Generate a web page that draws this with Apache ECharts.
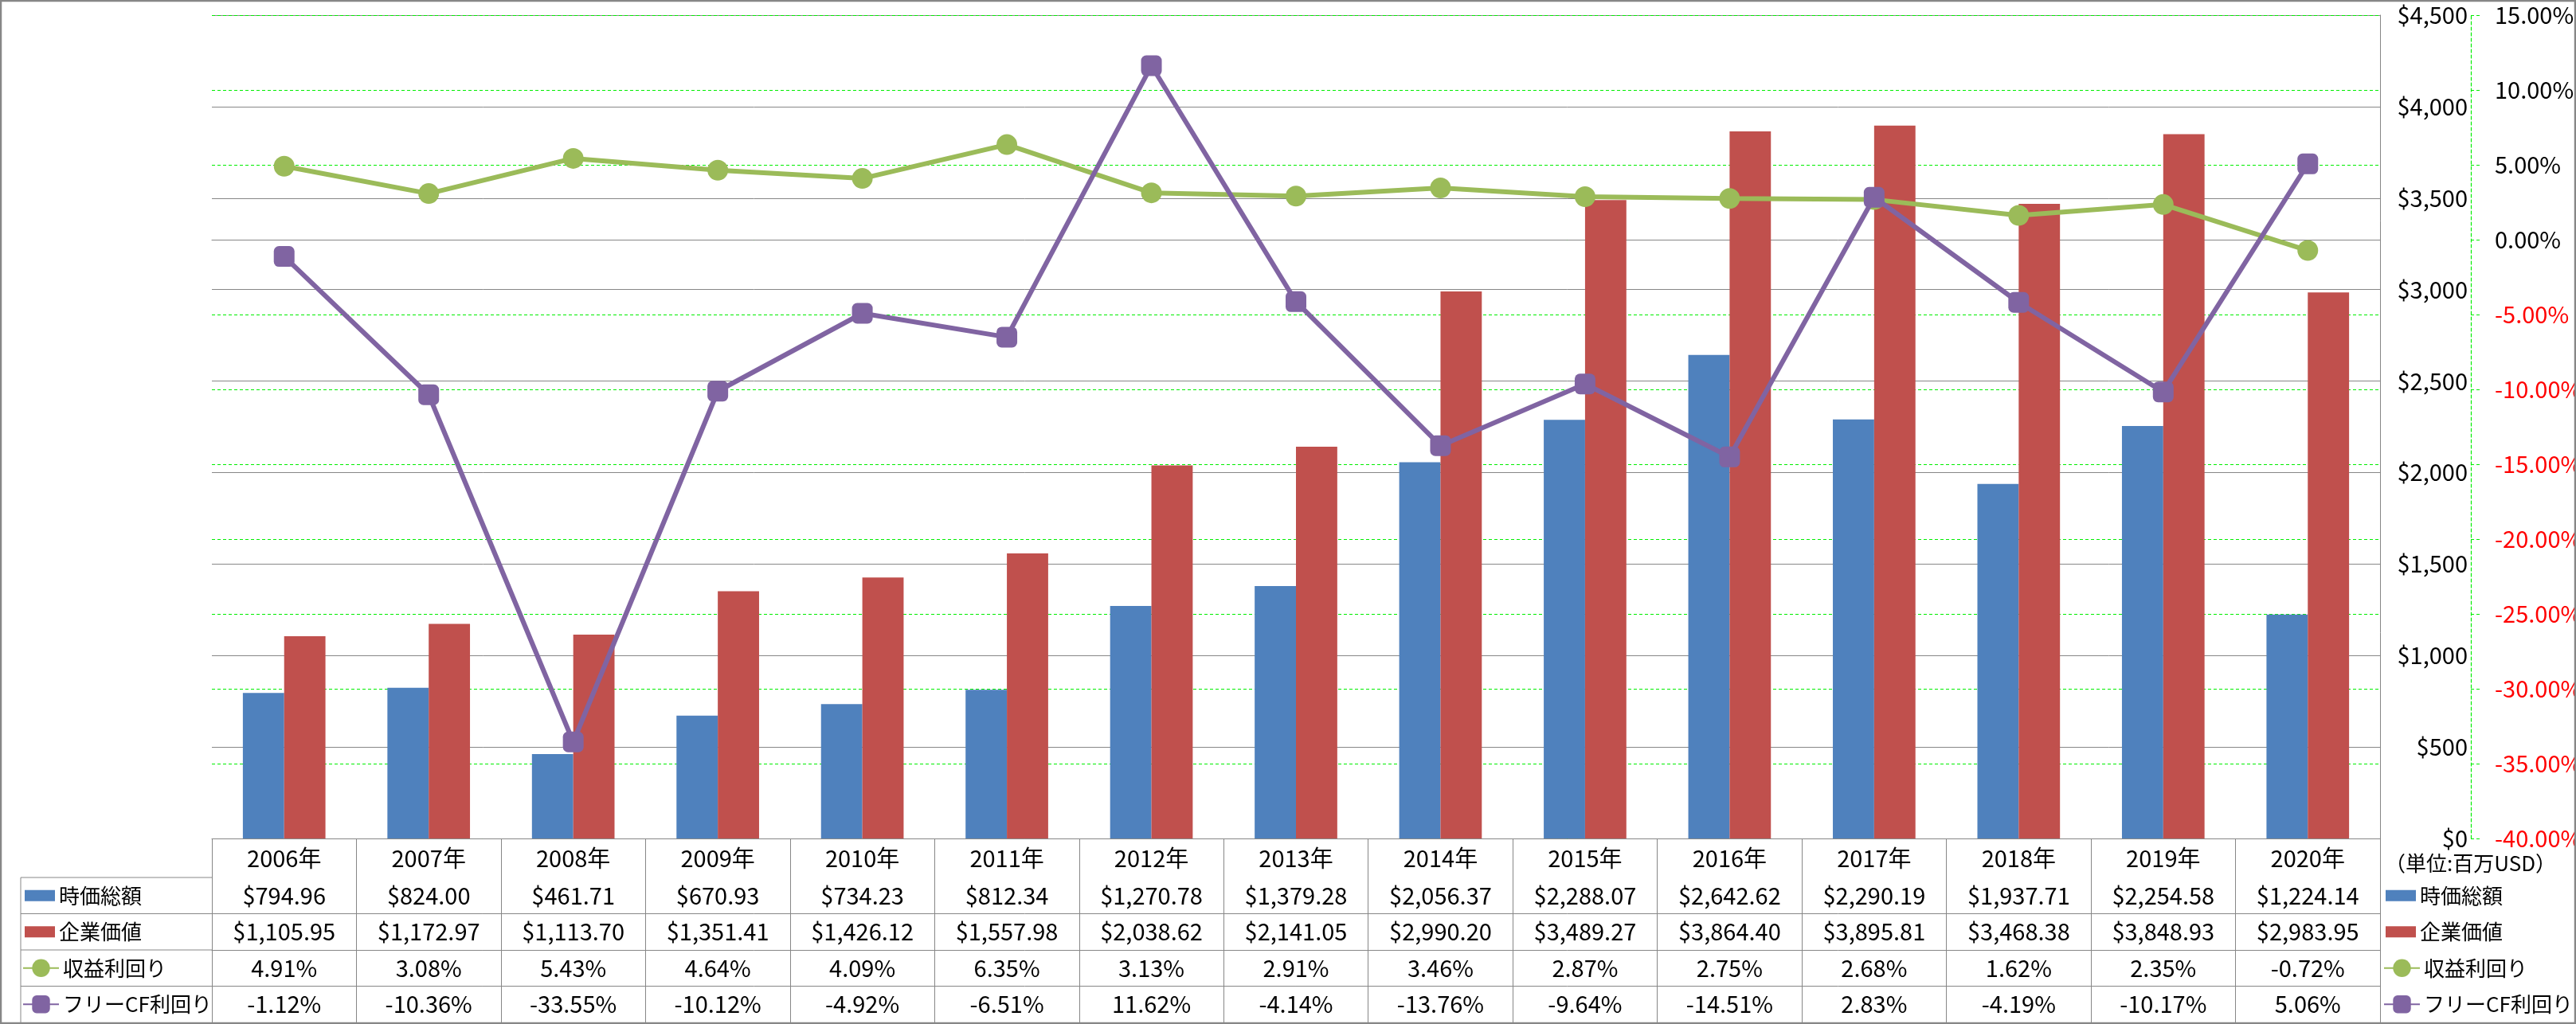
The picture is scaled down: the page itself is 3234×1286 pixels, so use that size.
<!DOCTYPE html>
<html><head><meta charset="utf-8">
<script src="https://cdn.jsdelivr.net/npm/echarts@6/dist/echarts.min.js"></script>
<style>html,body{margin:0;padding:0;background:#fff}#c{width:3234px;height:1286px}</style>
</head><body><div id="c"></div>
<script>
// ---------- data ----------
const years = ['2006年','2007年','2008年','2009年','2010年','2011年','2012年','2013年','2014年','2015年','2016年','2017年','2018年','2019年','2020年'];
const marketCap = [794.96, 824.00, 461.71, 670.93, 734.23, 812.34, 1270.78, 1379.28, 2056.37, 2288.07, 2642.62, 2290.19, 1937.71, 2254.58, 1224.14];
const enterpriseValue = [1105.95, 1172.97, 1113.70, 1351.41, 1426.12, 1557.98, 2038.62, 2141.05, 2990.20, 3489.27, 3864.40, 3895.81, 3468.38, 3848.93, 2983.95];
const earningsYield = [4.91, 3.08, 5.43, 4.64, 4.09, 6.35, 3.13, 2.91, 3.46, 2.87, 2.75, 2.68, 1.62, 2.35, -0.72];
const fcfYield = [-1.12, -10.36, -33.55, -10.12, -4.92, -6.51, 11.62, -4.14, -13.76, -9.64, -14.51, 2.83, -4.19, -10.17, 5.06];
const seriesNames = ['時価総額', '企業価値', '収益利回り', 'フリーCF利回り'];
const usdAxis = { min: 0, max: 4500, interval: 500 };
const pctAxis = { min: -40, max: 15, interval: 5 };
const unitLabel = '（単位:百万USD）';

// ---------- style / layout ----------
const FONT = "'Noto Sans CJK JP', sans-serif";
const FS = 29;
const LEG_FS = 26;
const COLORS = ['#4F81BD', '#C0504D', '#9BBB59', '#8064A2'];
const GRAY = '#878787';
const GREEN_GRID = '#00EE00';
const W = 3234, H = 1286;
const gridLeft = 266, gridRight = 246, gridTop = 19, gridBottom = 233;
const plotBottom = H - gridBottom;          // 1053
const headerH = 49, rowH = 45.5;
const rowOffsets = [0, headerH, headerH + rowH, headerH + 2 * rowH, headerH + 3 * rowH];
const tableLeft = 26;

const fmtUSD = v => '$' + v.toLocaleString('en-US', { minimumFractionDigits: 2, maximumFractionDigits: 2 });
const fmtPct = v => v.toFixed(2) + '%';
const rows = [
  marketCap.map(fmtUSD),
  enterpriseValue.map(fmtUSD),
  earningsYield.map(fmtPct),
  fcfYield.map(fmtPct)
];

const xAxes = [{
  type: 'category', data: years, gridIndex: 0, position: 'bottom', offset: 0,
  boundaryGap: true,
  axisLine: { show: true, lineStyle: { color: GRAY, width: 1 } },
  axisTick: { show: true, interval: 0, length: H - plotBottom - 2, lineStyle: { color: GRAY, width: 1 } },
  axisLabel: { interval: 0, margin: 0, fontFamily: FONT, fontSize: FS, color: '#000', lineHeight: headerH },
  splitLine: { show: false }
}];
rows.forEach((r, i) => {
  xAxes.push({
    type: 'category', data: years, gridIndex: 0, position: 'bottom', offset: rowOffsets[i + 1],
    axisLine: { show: true, lineStyle: { color: GRAY, width: 1 } },
    axisTick: { show: false },
    axisLabel: { interval: 0, margin: 0, fontFamily: FONT, fontSize: FS, color: '#000', lineHeight: rowH,
      formatter: (v, idx) => r[idx] },
    splitLine: { show: false }
  });
});

function legendFor(i, left, isLine) {
  const center = plotBottom + rowOffsets[i + 1] + rowH / 2;
  const boxH = 32;
  return {
    data: [seriesNames[i]], selectedMode: false, orient: 'vertical',
    left: left - (isLine ? 3 : 0), top: center - boxH / 2, padding: 0,
    itemWidth: isLine ? 45 : 38, itemHeight: isLine ? 28 : 14,
    icon: isLine ? undefined : 'rect',
    textStyle: { fontFamily: FONT, fontSize: LEG_FS, color: '#000', lineHeight: boxH }
  };
}
const legends = [];
for (let i = 0; i < 4; i++) {
  legends.push(legendFor(i, 31, i >= 2));
  legends.push(legendFor(i, 2995, i >= 2));
}

const graphics = [];
for (let i = 1; i < rowOffsets.length; i++) {
  const y = plotBottom + rowOffsets[i];
  graphics.push({ type: 'line', silent: true, shape: { x1: tableLeft, y1: y, x2: gridLeft, y2: y }, style: { stroke: GRAY, lineWidth: 1 } });
}
graphics.push({ type: 'line', silent: true, shape: { x1: tableLeft, y1: plotBottom + headerH, x2: tableLeft, y2: H }, style: { stroke: GRAY, lineWidth: 1 } });
graphics.push({ type: 'rect', silent: true, z: 100, shape: { x: 1, y: 1, width: W - 2, height: H - 2 }, style: { fill: 'none', stroke: '#878787', lineWidth: 2.5 } });

const chart = echarts.init(document.getElementById('c'), null, { renderer: 'canvas' });
chart.setOption({
  animation: false,
  backgroundColor: '#fff',
  title: { text: unitLabel, left: 2994, top: 1071, padding: 0,
    textStyle: { fontFamily: FONT, fontSize: 26, fontWeight: 'normal', color: '#000' } },
  legend: legends,
  grid: { left: gridLeft, right: gridRight, top: gridTop, bottom: gridBottom, containLabel: false, outerBoundsMode: 'none' },
  xAxis: xAxes,
  yAxis: [{
    type: 'value', position: 'right', offset: 0,
    min: usdAxis.min, max: usdAxis.max, interval: usdAxis.interval,
    axisLine: { show: true, lineStyle: { color: GRAY, width: 1 } },
    axisTick: { show: false },
    axisLabel: { margin: 110, align: 'right', fontFamily: FONT, fontSize: FS, color: '#000',
      formatter: v => '$' + v.toLocaleString('en-US') },
    splitLine: { show: true, lineStyle: { color: GRAY, width: 1 } }
  }, {
    type: 'value', position: 'right', offset: 114,
    min: pctAxis.min, max: pctAxis.max, interval: pctAxis.interval,
    axisLine: { show: true, lineStyle: { color: GREEN_GRID, width: 1.2, type: [4, 3] } },
    axisTick: { show: true, inside: false, length: 11, lineStyle: { color: GREEN_GRID, width: 1.2, type: [4, 3] } },
    axisLabel: { margin: 30, fontFamily: FONT, fontSize: FS,
      color: v => (parseFloat(v) < 0 ? '#FF0000' : '#000'),
      formatter: v => v.toFixed(2) + '%' },
    splitLine: { show: true, lineStyle: { color: GREEN_GRID, width: 1.2, type: [4, 3] } }
  }],
  series: [{
    name: seriesNames[0], type: 'bar', xAxisIndex: 0, yAxisIndex: 0, data: marketCap,
    barGap: '0%', barCategoryGap: '42.86%', itemStyle: { color: COLORS[0] }, z: 2
  }, {
    name: seriesNames[1], type: 'bar', xAxisIndex: 0, yAxisIndex: 0, data: enterpriseValue,
    barGap: '0%', barCategoryGap: '42.86%', itemStyle: { color: COLORS[1] }, z: 2
  }, {
    name: seriesNames[2], type: 'line', xAxisIndex: 0, yAxisIndex: 1, data: earningsYield,
    symbol: 'circle', symbolSize: 26, lineStyle: { color: COLORS[2], width: 6 },
    itemStyle: { color: COLORS[2] }, z: 3
  }, {
    name: seriesNames[3], type: 'line', xAxisIndex: 0, yAxisIndex: 1, data: fcfYield,
    symbol: 'roundRect', symbolSize: 26, lineStyle: { color: COLORS[3], width: 6 },
    itemStyle: { color: COLORS[3] }, z: 4
  }],
  graphic: graphics
});
</script>
</body></html>
